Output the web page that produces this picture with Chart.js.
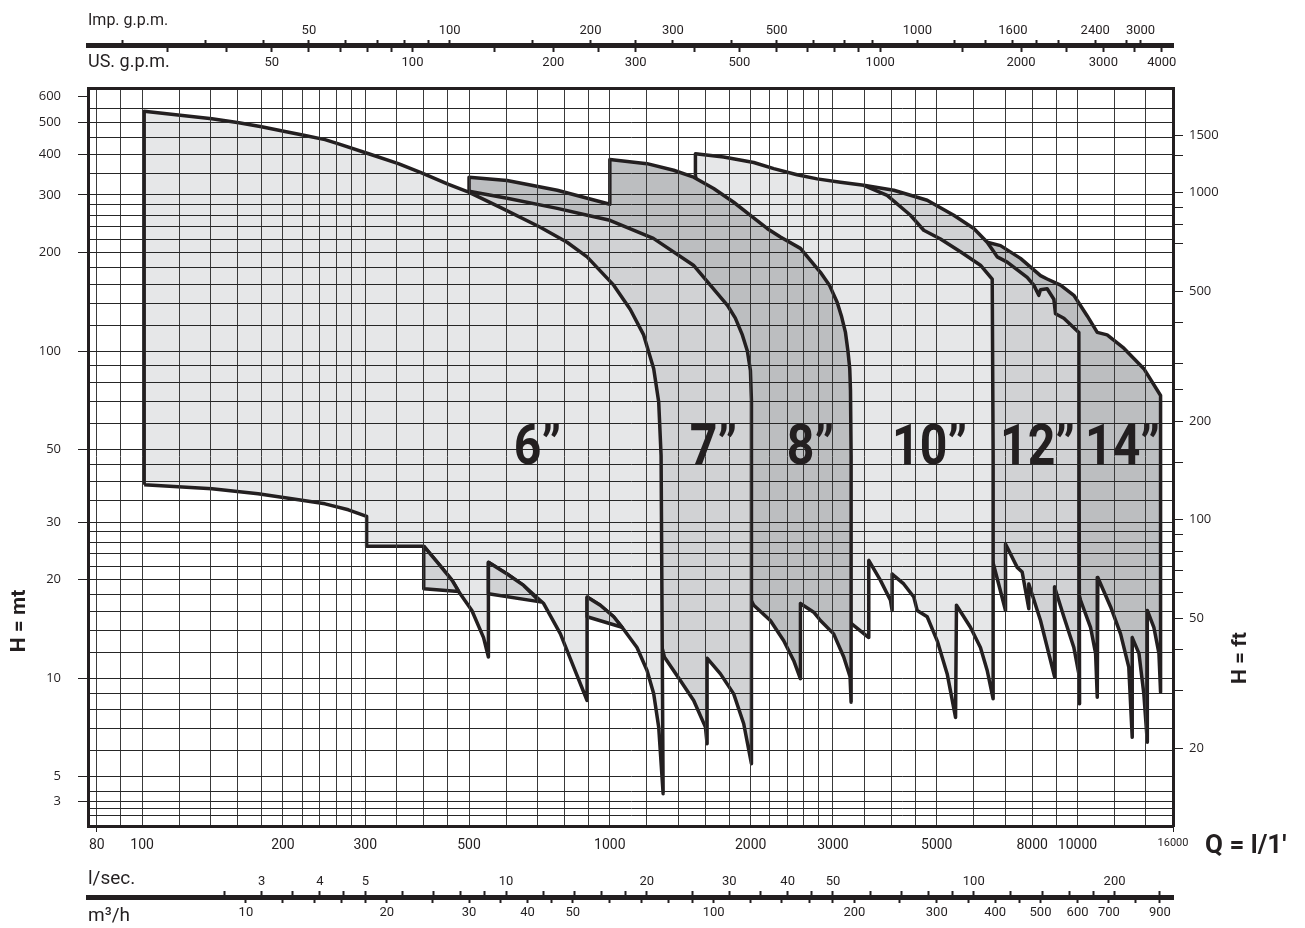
<!DOCTYPE html>
<html>
<head>
<meta charset="utf-8">
<title>Pump ranges 6" - 14"</title>
<script src="https://cdn.jsdelivr.net/npm/chart.js@4.4.1/dist/chart.umd.min.js"></script>
<style>
  html, body { margin: 0; padding: 0; background: #fff; }
  #wrap { position: relative; width: 1305px; height: 928px; }
</style>
</head>
<body>
<div id="wrap"><canvas id="chart" width="1305" height="928"></canvas></div>
<script>
'use strict'

// Q = l/min, H = m
const q6 = [101, 101, 122, 141, 161, 180, 202, 223, 246, 263, 305, 353, 397, 452, 499, 583, 710, 810, 894, 1019,
  1106, 1181, 1241, 1272, 1287, 1300, 1272, 1241, 1201, 1143, 1062, 1019, 954, 894, 894, 837, 784, 722, 654, 603,
  550, 550, 537, 507, 475, 460, 430, 400, 302, 302, 276, 246, 216, 177, 141]
const h6 = [39.0, 541, 525, 513, 499, 485, 469, 456, 443, 430, 401, 374, 350, 323, 306, 275, 239, 215, 194, 159,
  134, 112, 88.3, 69.8, 47.9, 4.43, 7.08, 8.95, 10.55, 12.4, 14.3, 15.4, 16.7, 17.7, 8.54, 10.8, 13.65, 16.9, 19.2, 20.8,
  22.6, 11.6, 13.3, 16.1, 18.4, 19.9, 22.4, 25.3, 25.3, 31.2, 32.7, 34.1, 35.1, 36.6, 37.9]

// small overlaps under the 6" lower edge
const s1q = [400, 430, 460, 475, 400]
const s1h = [25.3, 22.4, 19.9, 18.4, 18.75]
const s2q = [550, 603, 654, 710, 550]
const s2h = [22.6, 20.8, 19.2, 17.1, 18.1]
const s3q = [894, 954, 1019, 1062, 894]
const s3h = [17.7, 16.7, 15.4, 14.3, 15.4]

const q7 = [500, 603, 772, 895, 1000, 1239, 1509, 1784, 1855, 1920, 1968, 1998, 2008, 2008, 2008, 1933, 1840, 1724,
  1614, 1614, 1601, 1511, 1415, 1308, 1162]
const h7 = [308, 293, 273, 260, 251, 221, 183, 138, 126, 112, 100, 87.2, 70.6, 47.9, 5.47, 7.25, 8.95, 10.3,
  11.5, 6.30, 7.08, 8.54, 9.83, 11.6, 23]

const q8 = [500, 500, 603, 772, 1000, 1000, 1201, 1369, 1511, 1667, 1840, 1998, 2169, 2316, 2556, 2820, 2948, 3062,
  3127, 3190, 3229, 3258, 3270, 3280, 3280, 3263, 3163, 3010, 2820, 2729, 2556, 2556, 2473, 2354, 2204, 2031, 1811]
const h8 = [308, 340, 332, 310, 281, 385, 374, 357, 340, 314, 285, 260, 237, 223, 206, 174, 159, 141,
  128, 114, 100, 88.3, 75.8, 47.9, 8.44, 10.1, 11.6, 13.65, 15.0, 15.9, 16.9, 9.95, 11.3, 13.0, 15.0, 16.7, 22.9]

const q10 = [1524, 1524, 1751, 2031, 2241, 2514, 2775, 3112, 3491, 3917, 4393, 4690, 5093, 5619, 6200, 6570, 6600,
  6600, 6410, 6200, 5902, 5510, 5485, 5264, 5012, 4770, 4541, 4466, 4250, 4014, 4014, 3981, 3790, 3578, 3578, 3280,
  2556, 1562]
const h10 = [344, 401, 392, 377, 361, 346, 336, 328, 321, 299, 260, 234, 220, 201, 183, 166, 47.9,
  8.64, 10.55, 12.4, 14.3, 16.7, 7.58, 10.3, 13.0, 15.4, 16.1, 17.7, 19.4, 20.8, 16.1, 17.3, 19.9, 22.9, 13.3, 14.7,
  34.9, 289]

const q12 = [3491, 4047, 4770, 5437, 6001, 6410, 6622, 6733, 7073, 7804, 8062, 8263, 8333, 8611, 8899, 8973, 9348,
  10065, 10100, 10065, 9820, 9348, 8930, 8930, 8333, 7867, 7867, 7614, 7430, 7015, 7015, 6622, 5619, 3434]
const h12 = [321, 310, 289, 260, 237, 215, 201, 194, 187, 168, 159, 148, 154, 155, 144, 130, 126,
  114, 8.34, 10.3, 12.4, 15.4, 19.0, 10.1, 15.0, 19.4, 16.3, 21.1, 21.8, 25.7, 16.1, 22.1, 49.7, 289]

const q14 = [6410, 6844, 7551, 8333, 8611, 9196, 9820, 10490, 11020, 11570, 12560, 13860, 15050, 15050, 14930,
  14560, 14100, 14100, 13860, 13530, 13090, 13090, 12870, 12360, 11770, 11050, 11020, 10930, 10660, 10150, 8333, 6844]
const h14 = [215, 210, 192, 170, 166, 159, 148, 128, 114, 112, 102, 88.3, 73.1, 9.05, 11.9,
  14.3, 16.1, 6.37, 8.95, 11.9, 13.3, 6.59, 10.8, 13.65, 16.5, 20.3, 8.74, 11.9, 14.3, 17.3, 49.7, 143]

const sizeLabels = ['6”', '7”', '8”', '10”', '12”', '14”']
const labelQ = [700, 1665, 2685, 4826, 8212, 12480]
const labelH = [49.7, 49.7, 49.7, 49.7, 49.7, 49.7]

// axes
const xGrid = [80, 90, 100, 120, 140, 160, 180, 200, 220, 240, 260, 280, 300, 350, 400, 450, 500, 600, 700, 800, 900,
  1000, 1200, 1400, 1600, 1800, 2000, 2200, 2400, 2600, 2800, 3000, 3500, 4000, 4500, 5000, 6000, 7000, 8000, 9000,
  10000, 12000, 14000, 16000]
const xLabels = [80, 100, 200, 300, 500, 1000, 2000, 3000, 5000, 8000, 10000, 16000]
const yGrid = [3.8, 4, 4.2, 4.5, 5, 6, 7, 8, 9, 10, 12, 14, 16, 18, 20, 22, 24, 26, 28, 30, 35, 40, 45, 50, 60, 70,
  80, 90, 100, 120, 140, 160, 180, 200, 220, 240, 260, 280, 300, 350, 400, 450, 500, 550, 600]
// the reference prints its "3" at the 4.2 line (its bottom is compressed)
const yLabelValues = [4.2, 5, 10, 20, 30, 50, 100, 200, 300, 400, 500, 600]
const yLabelText = ['3', '5', '10', '20', '30', '50', '100', '200', '300', '400', '500', '600']
const ftTicks = [20, 30, 40, 50, 60, 70, 80, 90, 100, 150, 200, 250, 300, 400, 500, 700, 800, 900, 1000, 1300, 1500]
const ftLabels = [20, 50, 100, 200, 500, 1000, 1500]
const impTicks = [20, 30, 40, 50, 60, 70, 80, 90, 100, 150, 200, 250, 300, 400, 500, 600, 700, 800, 1000, 1200, 1400,
  1600, 1800, 2000, 2400, 2800, 3000]
const impLabels = [50, 100, 200, 300, 500, 1000, 1600, 2400, 3000]
const usTicks = [30, 40, 50, 60, 70, 80, 90, 100, 150, 200, 250, 300, 400, 500, 600, 700, 800, 900, 1000, 1500, 2000,
  2500, 3000, 3500, 4000]
const usLabels = [50, 100, 200, 300, 500, 1000, 2000, 3000, 4000]
const lpsTicks = [2.5, 3, 3.5, 4, 4.5, 5, 6, 7, 8, 9, 10, 12, 14, 16, 18, 20, 25, 30, 35, 40, 45, 50, 60, 70, 80, 90,
  100, 120, 140, 160, 180, 200, 250]
const lpsLabels = [3, 4, 5, 10, 20, 30, 40, 50, 100, 200]
const m3hTicks = [10, 12, 14, 16, 18, 20, 25, 30, 35, 40, 45, 50, 60, 70, 80, 90, 100, 120, 140, 160, 180, 200, 250,
  300, 350, 400, 450, 500, 600, 700, 800, 900]
const m3hLabels = [10, 20, 30, 40, 50, 100, 200, 300, 400, 500, 600, 700, 900]

const qMin = 76.6
const qMax = 16000
const hMin = 3.53
const hMax = 637
const FT = 3.28084
const US_GAL = 3.78541
const IMP_GAL = 4.54609

const ink = '#231f20'
const light = '#e6e7e8'
const mid = '#d1d2d4'
const dark = '#bcbec0'

const tickFont = { family: 'Roboto', size: 13 }
const sideFont = { family: 'Open Sans', size: 13 }

;(() => {
  function shape(q, h) {
    const pts = q.map((v, i) => ({ x: v, y: h[i] }))
    pts.push({ ...pts[0] })
    return pts
  }

  function fixedTicks(values) {
    return (axis) => {
      axis.ticks = values.map((v) => ({ value: v }))
    }
  }

  function onlyFor(labels, color) {
    return (c) => (c.tick && labels.includes(c.tick.value) ? color : 'transparent')
  }

  // unit scale beside the Q axis: labels only, tick marks only, or line + ticks + labels
  function unitAxis(position, weight, factor, values, labels, height, extra) {
    return {
      type: 'logarithmic',
      position,
      weight,
      min: qMin * factor,
      max: qMax * factor,
      afterBuildTicks: fixedTicks(values),
      afterFit: (a) => {
        a.height = height
      },
      ticks: {
        display: !!labels,
        autoSkip: false,
        maxRotation: 0,
        color: ink,
        font: tickFont,
        callback: (v) => (labels && labels.includes(v) ? String(v) : ''),
        ...(extra.ticks || {})
      },
      grid: { drawOnChartArea: false, color: ink, tickWidth: 2, ...(extra.grid || {}) },
      border: extra.border || { display: false },
      title: extra.title || { display: false }
    }
  }

  const regions = [
    { q: s1q, h: s1h, color: mid },
    { q: s2q, h: s2h, color: mid },
    { q: s3q, h: s3h, color: mid },
    { q: q6, h: h6, color: light },
    { q: q7, h: h7, color: mid },
    { q: q8, h: h8, color: dark },
    { q: q10, h: h10, color: light },
    { q: q12, h: h12, color: mid },
    { q: q14, h: h14, color: dark }
  ]

  const captions = {
    id: 'captions',
    afterDraw(chart) {
      const { ctx } = chart
      const sx = chart.scales.x
      const sy = chart.scales.y
      ctx.save()
      ctx.fillStyle = ink
      ctx.textAlign = 'center'
      ctx.textBaseline = 'middle'
      ctx.font = 'bold 56px Roboto'
      sizeLabels.forEach((t, i) => {
        ctx.save()
        ctx.translate(sx.getPixelForValue(labelQ[i]), sy.getPixelForValue(labelH[i]))
        ctx.scale(0.86, 1)
        ctx.fillText(t, 0, 0)
        ctx.restore()
      })
      ctx.font = 'bold 21px Roboto'
      ;[['H = mt', 20, 621], ['H = ft', 1241, 658]].forEach(([t, x, y]) => {
        ctx.save()
        ctx.translate(x, y)
        ctx.rotate(-Math.PI / 2)
        ctx.fillText(t, 0, 0)
        ctx.restore()
      })
      ctx.font = 'bold 26px Roboto'
      ctx.textAlign = 'left'
      ctx.fillText('Q = l/1′', 1205, 846)
      ctx.restore()
    }
  }

  new Chart(document.getElementById('chart'), {
    type: 'scatter',
    data: {
      datasets: regions.map((r, i) => ({
        data: shape(r.q, r.h),
        showLine: true,
        fill: 'shape',
        backgroundColor: r.color,
        borderColor: ink,
        borderWidth: 3.5,
        borderJoinStyle: 'round',
        pointRadius: 0,
        tension: 0,
        order: i
      }))
    },
    options: {
      responsive: false,
      animation: false,
      devicePixelRatio: 1,
      events: [],
      layout: { padding: { top: 4 } },
      plugins: {
        legend: { display: false },
        tooltip: { enabled: false }
      },
      scales: {
        x: {
          type: 'logarithmic',
          position: 'bottom',
          weight: 0,
          min: qMin,
          max: qMax,
          afterBuildTicks: fixedTicks(xGrid),
          afterFit: (a) => {
            a.height = 27
          },
          ticks: {
            autoSkip: false,
            maxRotation: 0,
            padding: 5,
            color: ink,
            font: (c) => ({ family: 'Roboto', size: c.tick && c.tick.value === 16000 ? 11 : 14 }),
            callback: (v) => (xLabels.includes(v) ? String(v) : '')
          },
          grid: {
            z: 1,
            color: '#3a3a3a',
            lineWidth: 1,
            tickLength: 6,
            tickColor: onlyFor([80, 16000], ink)
          },
          border: { z: 1, color: ink, width: 3 }
        },
        lps: unitAxis('bottom', 1, 1 / 60, lpsLabels, lpsLabels, 38, {
          ticks: { padding: 21 },
          grid: { drawTicks: false },
          title: {
            display: true,
            text: 'l/sec.',
            align: 'start',
            color: ink,
            font: { family: 'Roboto', size: 19 },
            padding: { top: 0, bottom: 0 }
          }
        }),
        lpsMarks: unitAxis('bottom', 2, 1 / 60, lpsTicks, null, 6, {
          grid: { tickLength: 6 }
        }),
        m3h: unitAxis('bottom', 3, 0.06, m3hTicks, m3hLabels, 31, {
          ticks: { padding: 2 },
          grid: { tickLength: 6 },
          border: { color: ink, width: 5 },
          title: {
            display: true,
            text: 'm³/h',
            align: 'start',
            color: ink,
            font: { family: 'Roboto', size: 19 },
            padding: { top: 0, bottom: 0 }
          }
        }),
        us: unitAxis('top', 0, 1 / US_GAL, usLabels, usLabels, 36, {
          ticks: { padding: 17 },
          grid: { drawTicks: false },
          border: { z: 1, color: ink, width: 3 },
          title: {
            display: true,
            text: 'US. g.p.m.',
            align: 'start',
            color: ink,
            font: { family: 'Roboto', size: 18 },
            padding: { top: 0, bottom: 0 }
          }
        }),
        usMarks: unitAxis('top', 1, 1 / US_GAL, usTicks, null, 7, {
          grid: { tickLength: 7 }
        }),
        imp: unitAxis('top', 2, 1 / IMP_GAL, impTicks, impLabels, 41, {
          ticks: { padding: 1 },
          grid: { tickLength: 5 },
          border: { color: ink, width: 5 },
          title: {
            display: true,
            text: 'Imp. g.p.m.',
            align: 'start',
            color: ink,
            font: { family: 'Roboto', size: 16 },
            padding: { top: 7, bottom: 0 }
          }
        }),
        y: {
          type: 'logarithmic',
          position: 'left',
          min: hMin,
          max: hMax,
          afterBuildTicks: fixedTicks(yGrid),
          afterFit: (a) => {
            a.width = 88
          },
          ticks: {
            autoSkip: false,
            padding: 17,
            color: ink,
            font: sideFont,
            callback: (v) => {
              const i = yLabelValues.indexOf(v)
              return i < 0 ? '' : yLabelText[i]
            }
          },
          grid: {
            z: 1,
            color: (c) => (c.tick && c.tick.value === 600 ? 'transparent' : '#262626'),
            lineWidth: 1,
            tickLength: 10,
            tickColor: onlyFor(yLabelValues, ink)
          },
          border: { z: 1, color: ink, width: 3 }
        },
        yFt: {
          type: 'logarithmic',
          position: 'right',
          min: hMin * FT,
          max: hMax * FT,
          afterBuildTicks: fixedTicks(ftTicks),
          afterFit: (a) => {
            a.width = 132
          },
          ticks: {
            autoSkip: false,
            padding: 6,
            color: ink,
            font: sideFont,
            callback: (v) => (ftLabels.includes(v) ? String(v) : '')
          },
          grid: { drawOnChartArea: false, tickLength: 10, color: ink },
          border: { z: 1, color: ink, width: 3 }
        }
      }
    },
    plugins: [captions]
  })
})()
</script>
</body>
</html>
